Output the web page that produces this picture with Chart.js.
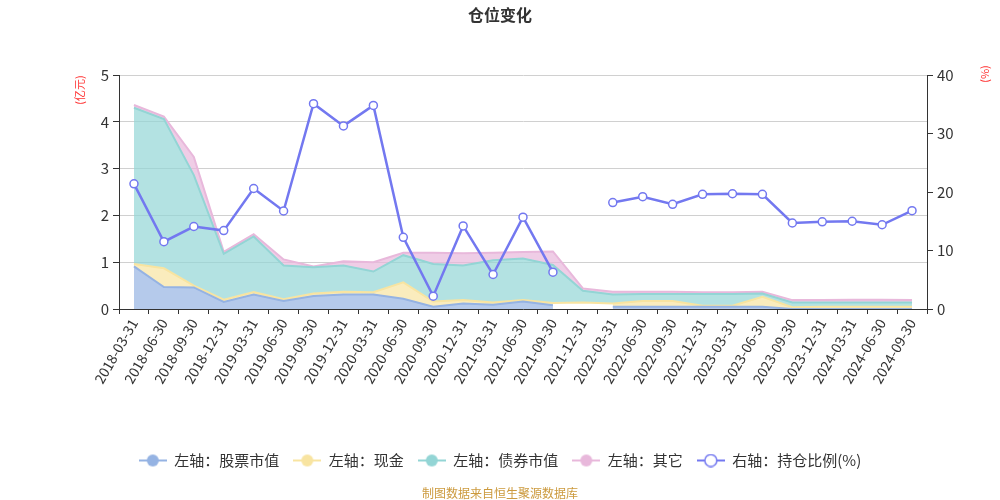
<!DOCTYPE html>
<html>
<head>
<meta charset="utf-8">
<script src="https://cdn.jsdelivr.net/npm/chart.js@4"></script>
<style>
  html, body { margin: 0; padding: 0; background: #fff; }
  #wrap { width: 1000px; height: 500px; }
</style>
</head>
<body>
<div id="wrap"><canvas id="myChart" width="1000" height="500"></canvas></div>
<script>
// quarter end dates
const dates = ['2018-03-31','2018-06-30','2018-09-30','2018-12-31','2019-03-31','2019-06-30','2019-09-30','2019-12-31',
  '2020-03-31','2020-06-30','2020-09-30','2020-12-31','2021-03-31','2021-06-30','2021-09-30','2021-12-31',
  '2022-03-31','2022-06-30','2022-09-30','2022-12-31','2023-03-31','2023-06-30','2023-09-30','2023-12-31',
  '2024-03-31','2024-06-30','2024-09-30'];

// left axis (亿元), stacked
const stockValue = [0.91,0.47,0.46,0.15,0.31,0.17,0.28,0.31,0.31,0.22,0.05,0.12,0.09,0.16,0.08,null,0.05,0.05,0.05,0.05,0.05,0.05,0,0,0,0,0];
const cash       = [0.05,0.40,0.04,0.05,0.05,0.04,0.05,0.06,0.05,0.35,0.11,0.07,0.05,0.03,0.05,0.14,0.07,0.12,0.12,0.02,0.02,0.21,0.04,0.05,0.05,0.05,0.05];
const bondValue  = [3.34,3.19,2.36,0.98,1.19,0.72,0.56,0.56,0.44,0.58,0.80,0.74,0.90,0.89,0.81,0.25,0.19,0.15,0.15,0.25,0.25,0.07,0.10,0.09,0.09,0.09,0.09];
const other      = [0.06,0.05,0.39,0.04,0.05,0.13,0.02,0.09,0.20,0.05,0.24,0.26,0.16,0.14,0.29,0.05,0.06,0.05,0.05,0.04,0.04,0.04,0.05,0.05,0.06,0.06,0.05];

// right axis (%)
const holdRatio = [21.4,11.5,14.1,13.4,20.6,16.75,35.1,31.3,34.8,12.25,2.2,14.2,5.9,15.7,6.3,null,18.2,19.2,17.9,19.6,19.7,19.6,14.7,14.9,15.0,14.4,16.8];

const leftTicks = [0,1,2,3,4,5];
const rightTicks = [0,10,20,30,40];

const FONT = '"Noto Sans CJK SC", "Noto Sans", sans-serif';

function legendIcon(color, hollow) {
    const c = document.createElement('canvas');
    c.width = 28; c.height = 14;
    const g = c.getContext('2d');
    g.strokeStyle = color;
    g.lineWidth = 2;
    g.beginPath(); g.moveTo(0, 7); g.lineTo(28, 7); g.stroke();
    g.beginPath(); g.arc(14, 7, 6, 0, Math.PI * 2);
    if (hollow) {
        g.fillStyle = '#fff'; g.fill();
        g.lineWidth = 1.5; g.stroke();
    } else {
        g.fillStyle = color; g.fill();
    }
    return c;
}

const series = [
    {label: '左轴：股票市值', data: stockValue, line: '#95b3e3', fillc: 'rgba(149,179,227,0.7)'},
    {label: '左轴：现金', data: cash, line: '#f8e4a1', fillc: 'rgba(248,228,161,0.7)'},
    {label: '左轴：债券市值', data: bondValue, line: '#93d5d5', fillc: 'rgba(147,213,213,0.7)'},
    {label: '左轴：其它', data: other, line: '#e8b8db', fillc: 'rgba(232,184,219,0.7)'}
];

const datasets = series.map((s, i) => ({
    label: s.label,
    data: s.data,
    yAxisID: 'y',
    stack: 'pos',
    borderColor: s.line,
    backgroundColor: s.fillc,
    borderWidth: 2,
    pointRadius: 0,
    tension: 0,
    fill: i === 0 ? 'origin' : '-1',
    icon: legendIcon(s.line, false),
    order: 1
}));

datasets.push({
    label: '右轴：持仓比例(%)',
    data: holdRatio,
    yAxisID: 'y1',
    borderColor: '#7378f0',
    backgroundColor: '#fff',
    borderWidth: 2.5,
    pointRadius: 4,
    pointBorderWidth: 1.5,
    pointBackgroundColor: '#fff',
    pointBorderColor: '#7378f0',
    tension: 0,
    fill: false,
    spanGaps: false,
    icon: legendIcon('#7378f0', true),
    order: 0
});

const extraText = {
    id: 'extraText',
    afterDraw(chart) {
        const ctx = chart.ctx;
        ctx.save();
        ctx.fillStyle = '#333';
        ctx.font = 'bold 16px ' + FONT;
        ctx.textAlign = 'center';
        ctx.textBaseline = 'middle';
        ctx.fillText('仓位变化', 500, 15);

        ctx.fillStyle = '#ff3333';
        ctx.font = '11px ' + FONT;
        ctx.save();
        ctx.translate(80, 90);
        ctx.rotate(-Math.PI / 2);
        ctx.fillText('(亿元)', 0, 0);
        ctx.restore();
        ctx.save();
        ctx.translate(985, 74);
        ctx.rotate(-Math.PI / 2);
        ctx.fillText('(%)', 0, 0);
        ctx.restore();

        ctx.fillStyle = '#cc9a3e';
        ctx.font = '12px ' + FONT;
        ctx.fillText('制图数据来自恒生聚源数据库', 500, 493);
        ctx.restore();
    }
};

const ctx = document.getElementById('myChart').getContext('2d');
const myChart = new Chart(ctx, {
    type: 'line',
    data: { labels: dates, datasets: datasets },
    plugins: [extraText],
    options: {
        responsive: false,
        animation: false,
        devicePixelRatio: 1,
        layout: { padding: { top: 75, left: 0, right: 0, bottom: 22 } },
        plugins: {
            title: { display: false },
            tooltip: { enabled: false },
            legend: {
                position: 'bottom',
                labels: {
                    usePointStyle: true,
                    pointStyleWidth: 28,
                    boxHeight: 14,
                    padding: 14,
                    color: '#333',
                    font: { size: 15, family: FONT },
                    generateLabels(chart) {
                        return chart.data.datasets.map((d, i) => ({
                            text: d.label,
                            pointStyle: d.icon,
                            fillStyle: d.borderColor,
                            strokeStyle: d.borderColor,
                            lineWidth: 0,
                            fontColor: '#333',
                            hidden: false,
                            datasetIndex: i
                        }));
                    }
                }
            }
        },
        scales: {
            x: {
                offset: true,
                grid: { display: true, offset: true, drawOnChartArea: false, drawTicks: true, tickLength: 5, tickColor: '#333' },
                border: { color: '#333' },
                ticks: {
                    autoSkip: false,
                    minRotation: 60,
                    maxRotation: 60,
                    color: '#333',
                    font: { size: 14, family: FONT },
                    padding: 2
                },
                afterFit(scale) { scale.height = 130; }
            },
            y: {
                position: 'left',
                stacked: true,
                min: 0,
                max: 5,
                afterBuildTicks(scale) { scale.ticks = leftTicks.map(v => ({ value: v })); },
                grid: { color: '#d0d0d0', tickColor: '#333', tickLength: 6 },
                border: { color: '#333' },
                ticks: { color: '#333', font: { size: 15, family: FONT }, padding: 4 },
                afterFit(scale) { scale.width = 119; }
            },
            y1: {
                position: 'right',
                stacked: false,
                min: 0,
                max: 40,
                afterBuildTicks(scale) { scale.ticks = rightTicks.map(v => ({ value: v })); },
                grid: { drawOnChartArea: false, tickColor: '#333', tickLength: 6 },
                border: { color: '#333' },
                ticks: { color: '#333', font: { size: 15, family: FONT }, padding: 4 },
                afterFit(scale) { scale.width = 73; }
            }
        }
    }
});
</script>
</body>
</html>
